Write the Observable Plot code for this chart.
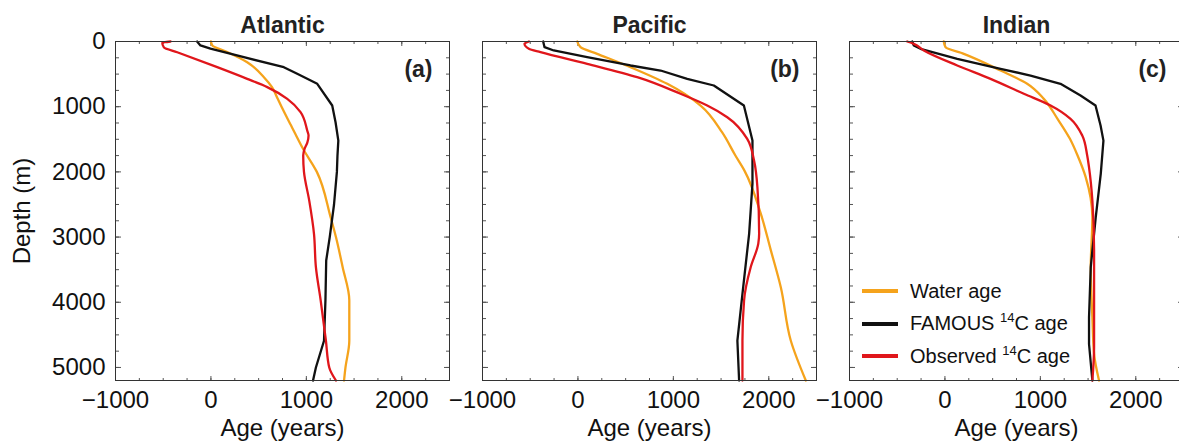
<!DOCTYPE html>
<html>
<head>
<meta charset="utf-8">
<script src="https://cdn.jsdelivr.net/npm/d3@7"></script>
<script src="https://cdn.jsdelivr.net/npm/@observablehq/plot@0.6"></script>
<style>
html, body { margin: 0; padding: 0; background: #fff; overflow: hidden; width: 1179px; height: 448px; }
#wrap { position: relative; width: 1179px; height: 448px; overflow: hidden; font-family: "Liberation Sans", Arial, sans-serif; color: #111; }
.panel { position: absolute; top: 0; }
.panel svg { overflow: visible; background: transparent; max-width: none !important; }
#legend { position: absolute; left: 862px; top: 275px; font-size: 20px; color: #111; }
.row { display: flex; align-items: center; height: 32.5px; white-space: nowrap; }
.sw { width: 36px; height: 4px; margin-right: 12px; }
.sup { font-size: 13px; position: relative; top: -8px; }
</style>
</head>
<body>
<div id="wrap"></div>
<script>
// ---------- data ----------
const oceans = ["Atlantic", "Pacific", "Indian"];
const panelTags = ["(a)", "(b)", "(c)"];
const seriesNames = ["Water age", "FAMOUS 14C age", "Observed 14C age"];
const seriesColors = ["#f5a31c", "#111111", "#e0161b"];
const xTickValues = [-1000, 0, 1000, 2000];
const yTickValues = [0, 1000, 2000, 3000, 4000, 5000];
const xMinorTicks = [-1000, -750, -500, -250, 0, 250, 500, 750, 1000, 1250, 1500, 1750, 2000, 2250, 2500];
const yMinorTicks = [0, 250, 500, 750, 1000, 1250, 1500, 1750, 2000, 2250, 2500, 2750, 3000, 3250, 3500, 3750, 4000, 4250, 4500, 4750, 5000];

// [depth (m), age (years)]
const atlanticWater = [[0,0],[60,14],[160,170],[317,380],[547,555],[700,640],[880,700],[1000,740],[1290,840],[1420,885],[1646,965],[2000,1110],[2700,1255],[3000,1310],[3460,1380],[3970,1450],[4590,1450],[5000,1410],[5200,1395]];
const atlanticFamous = [[0,-145],[60,-110],[110,-5],[240,345],[394,764],[496,904],[649,1114],[982,1271],[1238,1306],[1520,1335],[1750,1326],[2000,1320],[2500,1290],[3000,1245],[3360,1208],[3970,1200],[4590,1185],[5000,1100],[5200,1070]];
const atlanticObserved = [[0,-423],[20,-510],[90,-493],[165,-353],[394,66],[573,380],[700,590],[880,800],[1084,939],[1365,1009],[1442,1023],[1550,1010],[1646,981],[1750,967],[2000,975],[2440,1030],[2950,1080],[3460,1100],[3970,1150],[4590,1205],[5000,1240],[5200,1310]];

const pacificWater = [[0,-7],[87,27],[189,202],[394,551],[649,936],[982,1285],[1391,1510],[1749,1650],[1980,1745],[2640,1916],[3200,2021],[3770,2126],[4590,2231],[5200,2388]];
const pacificFamous = [[0,-364],[87,-350],[138,-253],[240,97],[368,551],[445,866],[573,1145],[675,1424],[982,1739],[1520,1829],[2180,1829],[2950,1794],[3870,1724],[4590,1671],[5200,1689]];
const pacificObserved = [[0,-514],[36,-560],[112,-514],[164,-392],[343,97],[547,621],[802,1075],[982,1355],[1161,1565],[1493,1774],[1830,1846],[2240,1881],[2950,1899],[3100,1890],[3460,1811],[3970,1741],[4590,1724],[5200,1724]];

const indianWater = [[0,-12],[87,6],[189,198],[445,583],[649,862],[880,1036],[1187,1180],[1493,1310],[1749,1390],[2080,1475],[2700,1545],[3460,1528],[4230,1545],[4790,1563],[5200,1615]];
const indianFamous = [[0,-343],[61,-326],[112,-256],[266,129],[419,583],[522,897],[649,1211],[828,1421],[982,1578],[1289,1631],[1520,1661],[2030,1633],[2700,1580],[3460,1528],[4230,1510],[4640,1510],[5200,1545]];
const indianObserved = [[0,-395],[36,-326],[138,-221],[368,129],[573,478],[802,827],[982,1107],[1187,1316],[1442,1439],[1749,1491],[1930,1510],[2440,1545],[3200,1563],[3970,1563],[4690,1563],[5200,1545]];

const profiles = [
  [atlanticWater, atlanticFamous, atlanticObserved],
  [pacificWater, pacificFamous, pacificObserved],
  [indianWater, indianFamous, indianObserved]
];

// ---------- layout ----------
const FONT = '"Liberation Sans", Arial, sans-serif';
const frameW = 334, frameH = 339, mTop = 41, mBottom = 68, mRight = 17;
const panelLefts = [0, 466, 833];
const wrap = document.getElementById("wrap");
const fmt = d => (d < 0 ? "\u2212" + (-d) : String(d));

function toRows(arr, s) {
  return arr.map(([depth, age]) => ({depth, age, series: seriesNames[s]}));
}

oceans.forEach((ocean, i) => {
  const ml = i === 0 ? 115 : 16;
  const width = ml + frameW + mRight;
  const tickStyle = {stroke: "#555", strokeWidth: 1, fill: "none", label: null};
  const marks = [
    // inward minor ticks on all four sides
    Plot.axisX(xMinorTicks, {...tickStyle, anchor: "top", tickSize: 3, dy: frameH}),
    Plot.axisX(xMinorTicks, {...tickStyle, anchor: "bottom", tickSize: 3, dy: -frameH}),
    Plot.axisY(yMinorTicks, {...tickStyle, anchor: "left", tickSize: 3, dx: frameW}),
    Plot.axisY(yMinorTicks, {...tickStyle, anchor: "right", tickSize: 3, dx: -frameW}),
    // major ticks slightly longer
    Plot.axisX(xTickValues, {...tickStyle, anchor: "top", tickSize: 5, dy: frameH}),
    Plot.axisX(xTickValues, {...tickStyle, anchor: "bottom", tickSize: 5, dy: -frameH}),
    Plot.axisY(yTickValues, {...tickStyle, anchor: "left", tickSize: 5, dx: frameW}),
    Plot.axisY(yTickValues, {...tickStyle, anchor: "right", tickSize: 5, dx: -frameW}),
    // tick labels
    Plot.axisX(xTickValues, {anchor: "bottom", tickSize: 0, tickPadding: 10, fontSize: 24, label: null, fill: "#111", tickFormat: fmt}),
  ];
  if (i === 0) {
    marks.push(Plot.axisY(yTickValues, {anchor: "left", tickSize: 0, tickPadding: 10, fontSize: 24, label: null, fill: "#111", tickFormat: fmt}));
    marks.push(Plot.text(["Depth (m)"], {text: d => d, frameAnchor: "left", dx: -93, rotate: -90, lineAnchor: "middle", textAnchor: "middle", fontSize: 24, fill: "#111"}));
  }
  profiles[i].forEach((arr, s) => {
    marks.push(Plot.line(toRows(arr, s), {
      x: "age", y: "depth", stroke: seriesColors[s], strokeWidth: 2.3,
      curve: s === 1 ? "linear" : "monotone-y"
    }));
  });
  marks.push(
    Plot.frame({stroke: "#333", strokeWidth: 1}),
    Plot.text([ocean], {text: d => d, frameAnchor: "top", dy: -9, lineAnchor: "bottom", fontSize: 23, fontWeight: "bold", fill: "#222"}),
    Plot.text([panelTags[i]], {text: d => d, frameAnchor: "top-right", dx: -17, dy: 35, lineAnchor: "bottom", textAnchor: "end", fontSize: 23, fontWeight: "bold", fill: "#222"}),
    Plot.text(["Age (years)"], {text: d => d, frameAnchor: "bottom", dy: 55, lineAnchor: "bottom", fontSize: 24, fill: "#111"})
  );
  const chart = Plot.plot({
    width, height: 448,
    marginLeft: ml, marginRight: mRight, marginTop: mTop, marginBottom: mBottom,
    style: {fontFamily: FONT, background: "transparent", overflow: "visible", color: "#111", maxWidth: "none"},
    x: {domain: [-1000, 2500]},
    y: {domain: [0, 5200], reverse: true},
    marks
  });
  const div = document.createElement("div");
  div.className = "panel";
  div.style.left = panelLefts[i] + "px";
  div.style.width = width + "px";
  div.appendChild(chart);
  wrap.appendChild(div);
});

// legend (inside Indian panel)
const legend = document.createElement("div");
legend.id = "legend";
seriesNames.forEach((name, s) => {
  const row = document.createElement("div");
  row.className = "row";
  const sw = document.createElement("div");
  sw.className = "sw";
  sw.style.background = seriesColors[s];
  row.appendChild(sw);
  const label = document.createElement("span");
  const m = name.match(/^(.*?)14C(.*)$/);
  if (m) {
    label.innerHTML = m[1] + '<span class="sup">14</span>C' + m[2];
  } else {
    label.textContent = name;
  }
  row.appendChild(label);
  legend.appendChild(row);
});
wrap.appendChild(legend);
</script>
</body>
</html>
